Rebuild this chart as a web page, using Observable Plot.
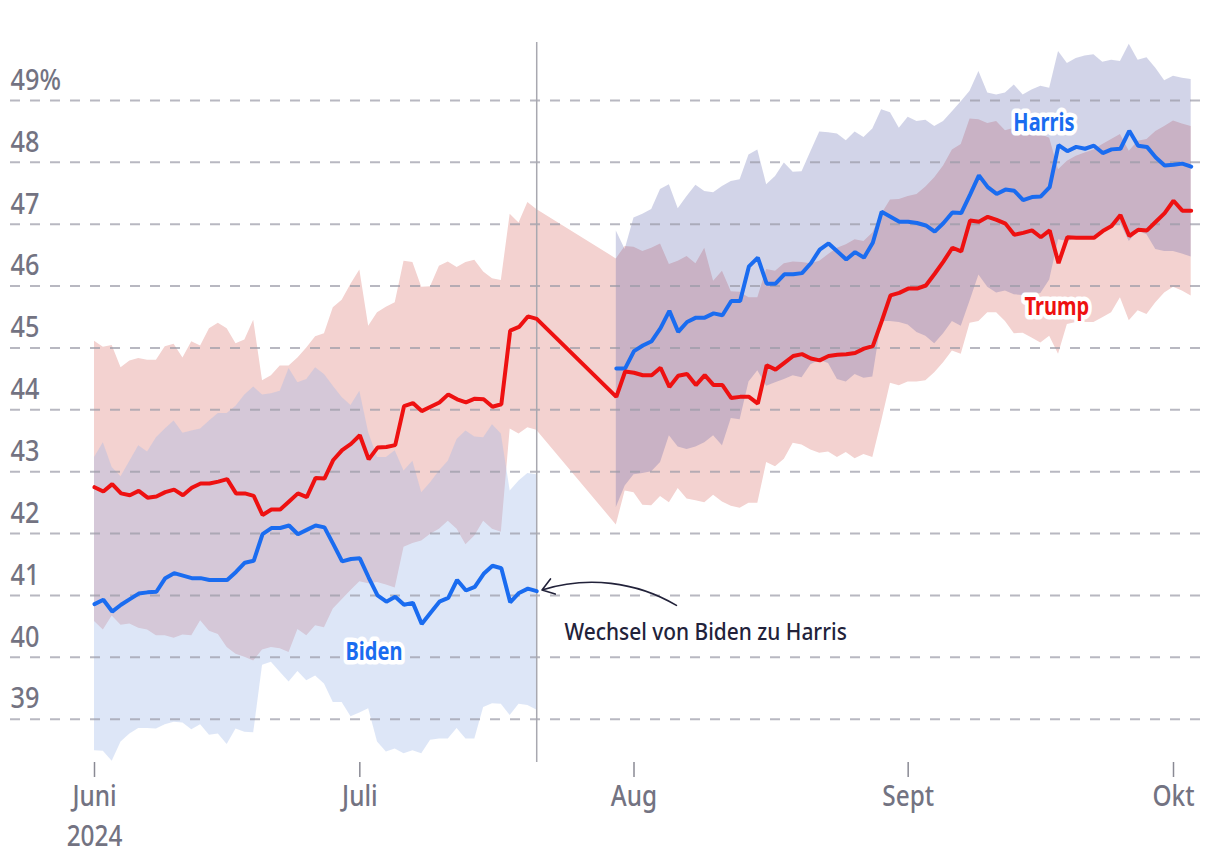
<!DOCTYPE html>
<html>
<head>
<meta charset="utf-8">
<script src="https://cdn.jsdelivr.net/npm/d3@7"></script>
<script src="https://cdn.jsdelivr.net/npm/@observablehq/plot@0.6"></script>
<style>
  html, body { margin: 0; padding: 0; background: #fff; }
  #chart svg { display: block; }
</style>
</head>
<body>
<div id="chart"></div>
<script>
// ---------- DATA (daily values, day 0 = 1 June 2024) ----------
const startDay = "2024-06-01";

// Trump, 1 June – 21 July (days 0–50)
const trumpMidA = [42.75,42.68,42.80,42.65,42.62,42.69,42.58,42.60,42.67,42.71,42.62,42.74,42.81,42.81,42.84,42.88,42.65,42.65,42.61,42.30,42.39,42.39,42.52,42.65,42.59,42.90,42.89,43.19,43.35,43.45,43.59,43.20,43.39,43.40,43.43,44.06,44.11,43.98,44.05,44.12,44.25,44.17,44.12,44.18,44.17,44.05,44.09,45.28,45.34,45.51,45.47];
const trumpLoA  = [40.58,40.44,40.67,40.52,40.54,40.47,40.44,40.35,40.35,40.31,40.36,40.35,40.59,40.42,40.37,40.16,40.05,40.00,39.94,40.12,40.16,40.14,40.08,40.45,40.35,40.51,40.48,40.78,40.93,41.08,41.22,41.19,41.21,41.17,41.12,41.78,41.84,41.88,41.99,42.07,42.20,42.07,41.82,41.96,42.20,42.07,42.02,43.69,43.61,43.71,43.67];
const trumpHiA  = [45.11,45.01,45.04,44.68,44.79,44.83,44.80,44.80,45.02,45.06,44.84,45.10,45.03,45.31,45.40,45.31,45.07,45.13,45.45,44.47,44.55,44.71,44.71,44.84,45.00,45.18,45.23,45.65,45.77,46.03,46.26,45.35,45.57,45.66,45.73,46.40,46.38,45.98,45.99,46.32,46.39,46.30,46.38,46.42,46.23,46.12,46.09,47.16,47.02,47.35,47.24];

// Trump, 30 July – 3 Oct (days 59–124)
const trumpMidB = [44.21,44.62,44.60,44.56,44.56,44.68,44.37,44.55,44.58,44.40,44.56,44.40,44.40,44.19,44.21,44.21,44.10,44.72,44.65,44.76,44.87,44.90,44.83,44.80,44.87,44.89,44.90,44.92,44.99,45.03,45.43,45.85,45.89,45.96,45.96,46.01,46.20,46.40,46.62,46.56,47.06,47.04,47.12,47.07,47.01,46.83,46.86,46.90,46.79,46.90,46.37,46.79,46.78,46.78,46.78,46.89,46.97,47.15,46.81,46.91,46.90,47.04,47.18,47.38,47.22,47.22];
const trumpLoB  = [42.14,42.69,42.66,42.46,42.45,42.60,42.50,42.73,42.56,42.53,42.50,42.62,42.51,42.44,42.41,42.49,42.49,43.15,43.08,43.20,43.46,43.43,43.35,43.30,43.32,43.23,43.31,43.21,43.28,43.23,43.81,44.43,44.39,44.45,44.45,44.47,44.60,44.76,44.95,44.90,45.40,45.43,45.57,45.57,45.43,45.23,45.24,45.16,45.08,45.19,44.90,45.38,45.41,45.41,45.41,45.49,45.57,45.81,45.44,45.60,45.54,45.73,45.89,45.98,45.92,45.84];
const trumpHiB  = [46.44,46.64,46.63,46.56,46.61,46.68,46.35,46.40,46.48,46.36,46.61,46.08,46.24,45.91,45.90,45.81,45.81,46.27,46.24,46.36,46.39,46.38,46.36,46.40,46.51,46.61,46.67,46.75,46.72,46.86,47.16,47.39,47.40,47.45,47.48,47.60,47.75,47.94,48.20,48.29,48.70,48.69,48.63,48.66,48.51,48.55,48.59,48.60,48.45,48.39,47.88,48.02,48.10,48.15,48.20,48.29,48.37,48.45,48.18,48.34,48.37,48.50,48.58,48.67,48.62,48.58];

// Biden, days 0–50
const bidenMid = [40.86,40.93,40.74,40.85,40.94,41.03,41.05,41.06,41.28,41.36,41.32,41.28,41.28,41.25,41.25,41.25,41.38,41.53,41.56,41.99,42.09,42.09,42.13,41.99,42.06,42.13,42.10,41.83,41.55,41.59,41.60,41.29,41.00,40.90,40.98,40.85,40.88,40.54,40.72,40.90,40.96,41.25,41.08,41.14,41.35,41.48,41.44,40.89,41.04,41.11,41.07];
const bidenLo  = [38.49,38.48,38.32,38.63,38.76,38.85,38.85,38.84,38.91,38.95,38.94,38.83,38.91,38.74,38.76,38.59,38.84,38.79,38.78,39.87,39.92,39.76,39.60,39.77,39.62,39.70,39.57,39.27,39.27,39.04,39.10,39.17,38.63,38.47,38.52,38.44,38.49,38.44,38.66,38.68,38.68,38.85,38.68,38.68,39.19,39.25,39.24,39.06,39.24,39.22,39.15];
const bidenHi  = [43.23,43.47,43.07,42.92,43.17,43.42,43.32,43.55,43.69,43.82,43.62,43.66,43.69,43.82,43.94,43.94,44.06,44.24,44.37,44.24,44.26,44.30,44.67,44.44,44.49,44.68,44.57,44.38,44.20,44.07,44.30,43.63,43.23,43.23,43.34,43.01,43.17,42.66,42.82,43.01,43.17,43.52,43.66,43.56,43.55,43.76,43.61,42.69,42.85,42.97,42.95];

// Harris, days 59–124
const harrisMid = [44.67,44.67,44.95,45.04,45.11,45.32,45.60,45.26,45.42,45.49,45.49,45.56,45.53,45.76,45.76,46.32,46.46,46.04,46.04,46.19,46.19,46.21,46.37,46.59,46.69,46.56,46.43,46.55,46.46,46.70,47.20,47.12,47.04,47.04,47.02,46.98,46.88,47.02,47.19,47.18,47.48,47.79,47.60,47.49,47.56,47.54,47.39,47.44,47.45,47.60,48.28,48.18,48.25,48.22,48.27,48.15,48.21,48.22,48.51,48.27,48.25,48.08,47.95,47.96,47.98,47.93];
const harrisLo  = [42.42,42.77,42.95,42.97,43.00,43.15,43.58,43.40,43.36,43.40,43.47,43.58,43.42,43.86,43.84,44.45,44.63,44.38,44.44,44.49,44.55,44.52,44.73,44.80,44.75,44.49,44.45,44.57,44.51,44.53,45.43,45.43,45.41,45.37,45.25,45.19,45.07,45.23,45.43,45.35,45.76,46.18,45.98,45.89,45.92,45.86,45.85,45.85,45.88,46.10,46.75,46.72,46.76,46.78,46.80,46.91,46.96,47.02,46.72,46.89,46.83,46.59,46.56,46.56,46.52,46.47];
const harrisHi  = [46.89,46.59,47.10,47.16,47.24,47.56,47.64,47.25,47.45,47.63,47.53,47.51,47.61,47.69,47.72,48.12,48.20,47.64,47.77,47.99,47.84,47.85,48.17,48.49,48.48,48.46,48.35,48.49,48.40,48.54,48.85,48.80,48.55,48.73,48.66,48.68,48.58,48.66,48.82,48.98,49.15,49.47,49.12,49.09,49.12,49.25,49.09,49.17,49.23,49.20,49.79,49.60,49.68,49.72,49.74,49.62,49.65,49.63,49.91,49.65,49.69,49.52,49.32,49.39,49.36,49.34];

const segAStart = 0, segBStart = 59;
const switchDay = 50;                       // 21 July: Biden withdraws
const yTicks = [39,40,41,42,43,44,45,46,47,48,49];
const monthTicks = ["2024-06-01","2024-07-01","2024-08-01","2024-09-01","2024-10-01"];
const monthLabels = ["Juni","Juli","Aug","Sept","Okt"];
const yearLabel = "2024";
const seriesLabels = [
  {name: "Harris", day: 107.35, value: 48.63, color: "#1a6cf0"},
  {name: "Trump",  day: 108.8,  value: 45.66, color: "#ee1111"},
  {name: "Biden",  day: 31.6,   value: 40.08, color: "#1a6cf0"}
];
const note = {text: "Wechsel von Biden zu Harris", day: 69.1, value: 40.40,
              fromDay: 65.8, fromValue: 40.84, toDay: 50.6, toValue: 41.09};

// ---------- helpers ----------
const t0 = new Date(startDay + "T00:00:00Z").getTime();
const dayDate = d => new Date(t0 + d * 864e5);
const rows = (start, mid, lo, hi) => mid.map((m, i) => ({date: dayDate(start + i), mid: m, lo: lo[i], hi: hi[i]}));

const trump  = rows(segAStart, trumpMidA, trumpLoA, trumpHiA).concat(rows(segBStart, trumpMidB, trumpLoB, trumpHiB));
const biden  = rows(segAStart, bidenMid, bidenLo, bidenHi);
const harris = rows(segBStart, harrisMid, harrisLo, harrisHi);

const RED = "#ee1111", BLUE = "#1a6cf0";
const GREY = "#737382", INK = "#22223a";
const FONT = "'Noto Sans', Roboto, 'DejaVu Sans', sans-serif";

const monthDates = monthTicks.map(s => new Date(s + "T00:00:00Z"));

const chart = Plot.plot({
  width: 1220,
  height: 866,
  marginTop: 42,
  marginBottom: 104,
  marginLeft: 10,
  marginRight: 20,
  style: {fontFamily: FONT, background: "#fff", overflow: "visible"},
  x: {type: "utc", domain: [monthDates[0], monthDates[4]], range: [94, 1173], axis: null},
  y: {domain: [39, 49], range: [718.7, 100], axis: null},
  marks: [
    // bands
    Plot.areaY(trump,  {x: "date", y1: "lo", y2: "hi", fill: "#f3d2d0", curve: "linear"}),
    Plot.areaY(biden,  {x: "date", y1: "lo", y2: "hi", fill: "#9bb5e8", fillOpacity: 0.34, curve: "linear"}),
    Plot.areaY(harris, {x: "date", y1: "lo", y2: "hi", fill: "#4a55a5", fillOpacity: 0.25, curve: "linear"}),
    // grid
    Plot.ruleY(yTicks, {stroke: "#9a9aa6", strokeOpacity: 0.7, strokeWidth: 2, strokeDasharray: "10,10"}),
    Plot.text(yTicks, {y: d => d, text: d => d === 49 ? "49%" : String(d), frameAnchor: "left",
      textAnchor: "start", dy: -20, fontSize: 29, fontWeight: 500, fill: GREY}),
    // switch line
    Plot.ruleX([dayDate(switchDay)], {stroke: "#a8a8b0", strokeWidth: 1.5}),
    // lines
    Plot.line(biden,  {x: "date", y: "mid", stroke: BLUE, strokeWidth: 4, strokeLinejoin: "miter"}),
    Plot.line(harris, {x: "date", y: "mid", stroke: BLUE, strokeWidth: 4, strokeLinejoin: "miter"}),
    Plot.line(trump,  {x: "date", y: "mid", stroke: RED,  strokeWidth: 4, strokeLinejoin: "miter"}),
    // x axis
    Plot.axisX(monthDates, {tickFormat: (d, i) => monthLabels[i], tickSize: 15, tickPadding: 9,
      fontSize: 28, fontWeight: 500, color: GREY, stroke: "#8a8a94", strokeWidth: 1.5, label: null}),
    Plot.text([yearLabel], {x: monthDates[0], frameAnchor: "bottom", dy: 75, fontSize: 28, fontWeight: 500, fill: GREY, lineAnchor: "middle"}),
    // series labels
    Plot.text(seriesLabels, {x: d => dayDate(d.day), y: "value", text: "name", fill: d => d.color,
      fontWeight: "bold", fontSize: 25, stroke: "white", strokeWidth: 9, strokeLinejoin: "round", paintOrder: "stroke"}),
    // annotation
    Plot.arrow([note], {x1: d => dayDate(d.fromDay), y1: "fromValue", x2: d => dayDate(d.toDay), y2: "toValue",
      bend: -24, stroke: INK, strokeWidth: 1.6, headLength: 13, headAngle: 70}),
    Plot.text([note], {x: d => dayDate(d.day), y: "value", text: "text", fill: INK, fontSize: 24, fontWeight: 500})
  ]
});

document.getElementById("chart").append(chart);

// condense the glyphs (the reference uses a condensed face that is not installed)
d3.select(chart).selectAll("text").each(function () {
  const w = this.getComputedTextLength();
  if (!w) return;
  const bold = +getComputedStyle(this).fontWeight >= 600;
  this.setAttribute("textLength", (w * (bold ? 0.8 : 0.87)).toFixed(1));
  this.setAttribute("lengthAdjust", "spacingAndGlyphs");
});
</script>
</body>
</html>
